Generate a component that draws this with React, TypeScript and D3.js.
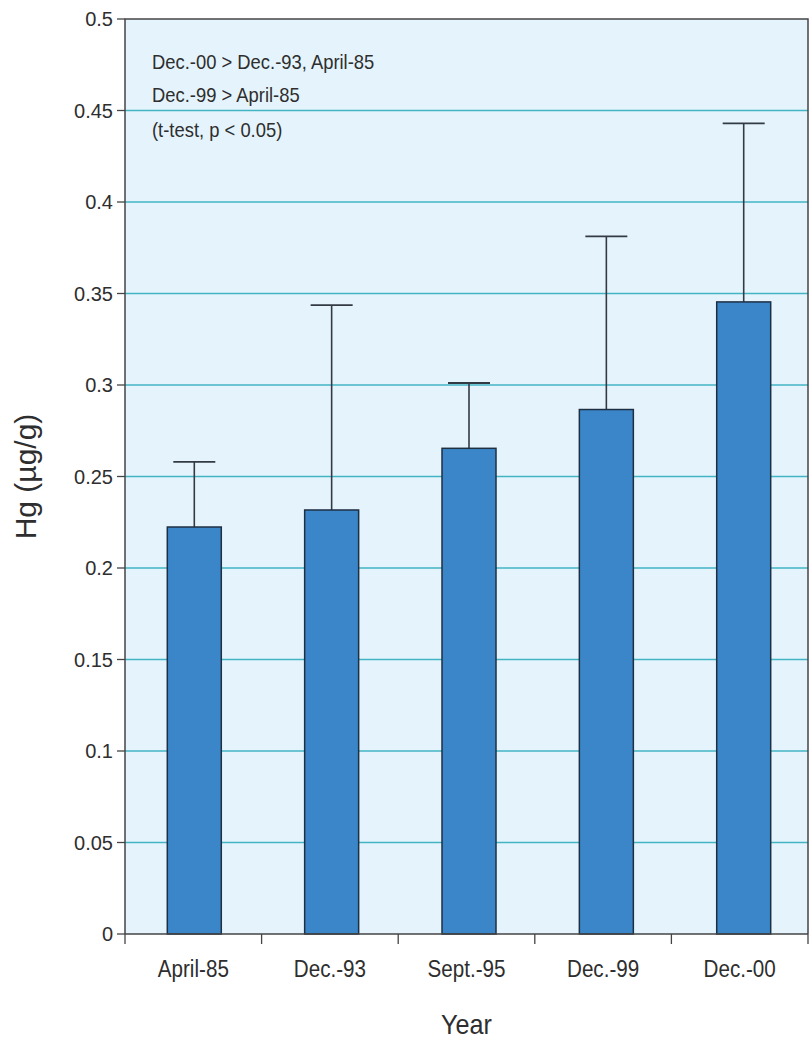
import React from "react";
import * as d3 from "d3";

const categories = ["April-85", "Dec.-93", "Sept.-95", "Dec.-99", "Dec.-00"];
const means = [0.2224, 0.2317, 0.2654, 0.2866, 0.3454];
const upper = [0.258, 0.3437, 0.3011, 0.3812, 0.443];
const yTicks = [0, 0.05, 0.1, 0.15, 0.2, 0.25, 0.3, 0.35, 0.4, 0.45, 0.5];
const notes = ["Dec.-00 > Dec.-93, April-85", "Dec.-99 > April-85", "(t-test, p < 0.05)"];

const W = 812;
const H = 1046;
const left = 125;
const right = 808;
const top = 19;
const bottom = 934;
const FONT = "'Liberation Sans', Arial, Helvetica, sans-serif";
const INK = "#2e2e2e";

export default function App() {
  const x = d3.scaleBand<string>().domain(categories).range([left, right]);
  // bar centres sit slightly right of the band centres in the original
  const xb = d3.scalePoint<string>().domain(categories).range([left + x.step() / 2 + 1, right - x.step() / 2 + 4]);
  const y = d3.scaleLinear().domain([0, 0.5]).range([bottom, top]);
  const barW = 54;
  const capW = 42;
  const boundaries = d3.range(categories.length + 1).map((i) => left + i * x.step());
  const fmt = (v: number) => (v === 0 ? "0" : String(+v.toFixed(2)));

  return (
    <svg width={W} height={H} style={{ position: "absolute", left: 0, top: 0 }}>
      <rect x={0} y={0} width={W} height={H} fill="#ffffff" />
      <rect x={left} y={top} width={right - left} height={bottom - top} fill="#e5f4fc" />
      {yTicks.filter((t) => t > 0 && t < 0.5).map((t) => (
        <line key={t} x1={left} x2={right} y1={y(t)} y2={y(t)} stroke="#42b4c4" strokeWidth={1.7} />
      ))}
      {categories.map((c, i) => {
        const cx = xb(c) as number;
        return (
          <g key={c}>
            <line x1={cx} x2={cx} y1={y(means[i])} y2={y(upper[i])} stroke="#333a44" strokeWidth={1.6} />
            <line x1={cx - capW / 2} x2={cx + capW / 2} y1={y(upper[i])} y2={y(upper[i])} stroke="#333a44" strokeWidth={1.8} />
            <rect x={cx - barW / 2} y={y(means[i])} width={barW} height={bottom - y(means[i])} fill="#3a86c8" stroke="#1f2f42" strokeWidth={1.5} />
          </g>
        );
      })}
      <path d={`M${left},${bottom} V${top} H${right} V${bottom}`} fill="none" stroke="#444" strokeWidth={1.5} />
      <line x1={left} x2={right} y1={bottom} y2={bottom} stroke="#444" strokeWidth={1.5} />
      {yTicks.map((t) => (
        <g key={t}>
          <line x1={left - 8} x2={left} y1={y(t)} y2={y(t)} stroke="#444" strokeWidth={1.3} />
          <text x={left - 12} y={y(t)} dy="0.36em" textAnchor="end" fontFamily={FONT} fontSize={20} fill={INK}>{fmt(t)}</text>
        </g>
      ))}
      {boundaries.map((b, i) => (
        <line key={i} x1={b} x2={b} y1={bottom} y2={bottom + 10} stroke="#444" strokeWidth={1.3} />
      ))}
      {categories.map((c) => (
        <text key={c} transform={`translate(${(x(c) as number) + x.bandwidth() / 2},977) scale(0.86,1)`} textAnchor="middle" fontFamily={FONT} fontSize={24} fill={INK}>{c}</text>
      ))}
      <text transform={`translate(${(left + right) / 2},1034) scale(0.9,1)`} textAnchor="middle" fontFamily={FONT} fontSize={28} fill={INK}>Year</text>
      <text transform={`translate(36,${(top + bottom) / 2}) rotate(-90)`} textAnchor="middle" fontFamily={FONT} fontSize={30} fill={INK}>Hg (µg/g)</text>
      {notes.map((n, i) => (
        <text key={i} transform={`translate(152,${[69, 102, 137][i]}) scale(0.92,1)`} fontFamily={FONT} fontSize={20} fill={INK}>{n}</text>
      ))}
    </svg>
  );
}
